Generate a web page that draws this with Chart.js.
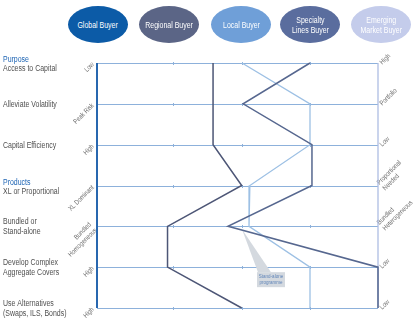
<!DOCTYPE html>
<html>
<head>
<meta charset="utf-8">
<script src="https://cdn.jsdelivr.net/npm/chart.js@4.4.1/dist/chart.umd.min.js"></script>
<style>
  body { margin: 0; background: #fff; }
  #wrap { position: relative; width: 418px; height: 318px; }
  .buyer {
    position: absolute; top: 6px; width: 60px; height: 37px; border-radius: 50%;
    display: flex; align-items: center; justify-content: center; text-align: center;
    color: #fff; font: 8.5px/10px "Liberation Sans", Arial, sans-serif;
  }
  .buyer span { display: inline-block; transform: scaleX(0.82); white-space: nowrap; }
</style>
</head>
<body>
<div id="wrap">
  <canvas id="chart" width="418" height="318"></canvas>
</div>
<script>
// =====================
// Data
// =====================

const buyers = ['Global Buyer', 'Regional Buyer', 'Local Buyer', 'Specialty\nLines Buyer', 'Emerging\nMarket Buyer'];

const rowGroups = ['Purpose', '', '', 'Products', '', '', ''];
const rowLabels = [
  ['Access to Capital'],
  ['Alleviate Volatility'],
  ['Capital Efficiency'],
  ['XL or Proportional'],
  ['Bundled or', 'Stand-alone'],
  ['Develop Complex', 'Aggregate Covers'],
  ['Use Alternatives', '(Swaps, ILS, Bonds)']
];
const leftEnds = [['Low'], ['Peak Risk'], ['High'], ['XL Dominant'], ['Bundled', 'Homogeneous'], ['High'], ['High']];
const rightEnds = [['High'], ['Portfolio'], ['Low'], ['Proportional', 'Needed'], ['Bundled', 'Heterogeneous'], ['Low'], ['Low']];

// position of each buyer on the 0 (left end) .. 100 (right end) scale, one value per row
const globalVals    = [0, 0, 0, 0, 0, 0, 0];
const regionalVals  = [41.3, 41.3, 41.3, 51.5, 25.1, 25.1, 51.5];
const localVals     = [51.6, 75.8, 75.8, 54.4, 54.1, 75.8, 75.8];
const specialtyVals = [75.8, 52.0, 76.5, 76.5, 46.6, 100, 100];
const emergingVals  = [100, 100, 100, 100, 100, 100, 100];

const xTicks = [27, 51.6, 75.8];

// =====================
// Buyer ovals
// =====================

const ovalColors = ['#0c5ba7', '#5b6586', '#6f9fd8', '#5a6d9e', '#c4cceb'];
const ovalLeft = [68, 139, 211, 280, 351];
const wrap = document.getElementById('wrap');
buyers.forEach((b, i) => {
  const el = document.createElement('div');
  el.className = 'buyer';
  el.style.left = ovalLeft[i] + 'px';
  el.style.background = ovalColors[i];
  el.innerHTML = '<span>' + b.replace('\n', '<br>') + '</span>';
  wrap.appendChild(el);
});

// =====================
// Rows, end labels, callout
// =====================

const FONT = '"Liberation Sans", Arial, sans-serif';
const NARROW = 0.82;   // squeeze text like the condensed face of the original

function narrowText(ctx, t, px, py) {
  ctx.save();
  ctx.translate(px, py);
  ctx.scale(NARROW, 1);
  ctx.fillText(t, 0, 0);
  ctx.restore();
}

function drawTilted(ctx, lines, px, py, align) {
  ctx.save();
  ctx.translate(px, py);
  ctx.rotate(-Math.PI / 4);
  ctx.textAlign = align;
  ctx.textBaseline = 'middle';
  lines.forEach((t, j) => narrowText(ctx, t, 0, (j - (lines.length - 1) / 2) * 8));
  ctx.restore();
}

const rowsPlugin = {
  id: 'rows',
  beforeDatasetsDraw(chart) {
    const { ctx, chartArea, scales: { x, y } } = chart;
    ctx.save();

    rowLabels.forEach((lines, i) => {
      const py = Math.round(y.getPixelForValue(i)) + 0.5;

      // row line + small ticks
      ctx.strokeStyle = '#8db1db';
      ctx.lineWidth = 1;
      ctx.beginPath();
      ctx.moveTo(chartArea.left, py);
      ctx.lineTo(chartArea.right, py);
      ctx.stroke();
      xTicks.forEach(t => {
        const px = Math.round(x.getPixelForValue(t)) + 0.5;
        ctx.beginPath();
        ctx.moveTo(px, py - 1.5);
        ctx.lineTo(px, py + 1.5);
        ctx.stroke();
      });

      // row titles on the left
      ctx.textAlign = 'left';
      ctx.textBaseline = 'middle';
      ctx.font = '8.5px ' + FONT;
      if (rowGroups[i]) {
        ctx.fillStyle = '#1c63b3';
        narrowText(ctx, rowGroups[i], 3, py - 4);
        ctx.fillStyle = '#4f4f4f';
        narrowText(ctx, lines[0], 3, py + 5.5);
      } else {
        ctx.fillStyle = '#4f4f4f';
        lines.forEach((t, j) => narrowText(ctx, t, 3, py + (j - (lines.length - 1) / 2) * 10));
      }

      // tilted end labels
      ctx.fillStyle = '#707070';
      ctx.font = '7px ' + FONT;
      drawTilted(ctx, leftEnds[i], chartArea.left - 4, py, 'right');
      drawTilted(ctx, rightEnds[i], chartArea.right + 3, py, 'left');
    });

    // callout "Stand-alone programme"
    const tx = x.getPixelForValue(51.6);
    const ty = y.getPixelForValue(4) + 3;
    const by = y.getPixelForValue(5) + 5;
    ctx.fillStyle = '#d4d9df';
    ctx.beginPath();
    ctx.moveTo(tx, ty);
    ctx.lineTo(tx + 16, by);
    ctx.lineTo(tx + 29, by);
    ctx.closePath();
    ctx.fill();
    ctx.fillRect(tx + 15, by, 28, 15);
    ctx.fillStyle = '#5f84b8';
    ctx.font = '5.5px ' + FONT;
    ctx.textAlign = 'center';
    ctx.textBaseline = 'middle';
    narrowText(ctx, 'Stand-alone', tx + 29, by + 4.5);
    narrowText(ctx, 'programme', tx + 29, by + 10.5);

    ctx.restore();
  }
};

// =====================
// Chart
// =====================

const toPoints = vals => vals.map((v, i) => ({ x: v, y: i }));

function series(label, vals, color, width, order) {
  return {
    label: label,
    data: toPoints(vals),
    showLine: true,
    borderColor: color,
    borderWidth: width,
    pointRadius: 0,
    clip: false,
    order: order
  };
}

new Chart(document.getElementById('chart'), {
  type: 'scatter',
  data: {
    datasets: [
      series('Global Buyer', globalVals, '#2867af', 2, 1),
      series('Regional Buyer', regionalVals, '#4d5676', 1.5, 2),
      series('Local Buyer', localVals, '#9dc0e4', 1.3, 4),
      series('Specialty Lines Buyer', specialtyVals, '#56678f', 1.5, 3),
      series('Emerging Market Buyer', emergingVals, '#aebde3', 1.3, 5)
    ]
  },
  options: {
    responsive: false,
    animation: false,
    layout: { padding: { left: 97, right: 40, top: 63, bottom: 10 } },
    scales: {
      x: { type: 'linear', min: 0, max: 100, display: false },
      y: { type: 'linear', min: 0, max: 6, reverse: true, display: false }
    },
    plugins: {
      legend: { display: false },
      tooltip: { enabled: false }
    }
  },
  plugins: [rowsPlugin]
});
</script>
</body>
</html>
